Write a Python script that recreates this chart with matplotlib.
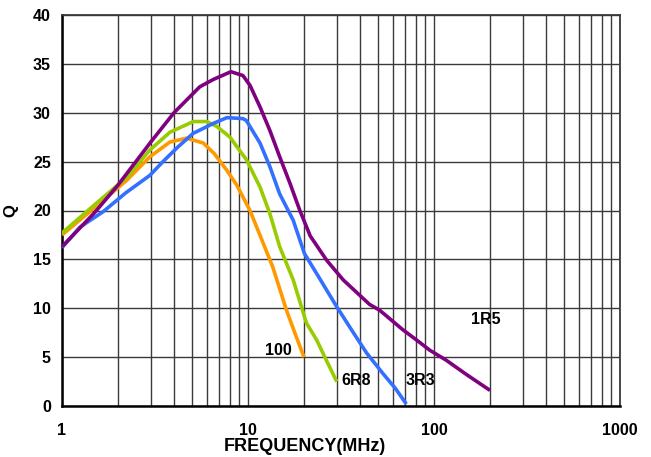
import matplotlib
matplotlib.use("Agg")
import matplotlib.pyplot as plt
from matplotlib.ticker import FixedLocator, LogLocator, NullFormatter

plt.rcParams['font.family'] = ['Liberation Sans', 'DejaVu Sans']

# Q vs frequency
f_1r5 = [1, 1.5, 2, 3, 4, 5.5, 6.5, 8.1, 9.4, 10.25, 11.6, 13.1, 14.8, 16.8, 19.0, 21.6, 26.5, 32.5, 45, 51, 68, 80.6, 95, 116, 150, 200]
q_1r5 = [16.3, 19.8, 22.6, 27.0, 30.0, 32.65, 33.4, 34.2, 33.8, 32.8, 30.6, 28.2, 25.5, 22.8, 20.0, 17.4, 14.9, 12.9, 10.4, 9.8, 7.8, 6.75, 5.7, 4.7, 3.2, 1.6]

f_3r3 = [1, 1.25, 1.67, 2.2, 2.97, 3.49, 4.2, 5.08, 6.5, 7.7, 9.4, 9.8, 11.6, 13.1, 14.8, 17.5, 20.1, 24, 30, 36, 43.5, 53, 62, 71]
q_3r3 = [16.2, 18.3, 19.9, 21.8, 23.6, 25.0, 26.5, 27.9, 28.9, 29.5, 29.4, 29.2, 26.9, 24.5, 21.7, 19.0, 15.6, 13.2, 10.15, 7.8, 5.4, 3.35, 1.8, 0.2]

f_6r8 = [1, 1.5, 2.23, 2.97, 3.8, 5.08, 6.0, 6.8, 8.0, 9.8, 11.6, 13.1, 14.8, 17.5, 20.6, 23.4, 26.5, 30]
q_6r8 = [17.7, 20.6, 23.4, 26.2, 28.0, 29.1, 29.1, 28.6, 27.5, 25.2, 22.4, 19.7, 16.3, 12.9, 8.5, 6.75, 4.6, 2.5]

f_100 = [1, 1.5, 2.23, 2.97, 3.8, 4.68, 5.75, 6.6, 7.7, 8.7, 10.25, 12.1, 13.6, 16.1, 18, 20]
q_100 = [17.5, 20.3, 23.1, 25.5, 27.0, 27.4, 26.9, 25.8, 24.1, 22.6, 20.0, 16.6, 14.2, 9.8, 7.3, 5.0]

series = [
    (f_100, q_100, '#FF9900', '100', 14.5, 5.7),
    (f_6r8, q_6r8, '#99CC00', '6R8', 38, 2.65),
    (f_3r3, q_3r3, '#3370FF', '3R3', 84, 2.65),
    (f_1r5, q_1r5, '#800080', '1R5', 190, 8.8),
]

fig = plt.figure(figsize=(6.51, 4.57), dpi=100)
ax = fig.add_axes([62/651, 1 - 406/457, 558/651, 391/457])

for f, q, col, name, lx, ly in series:
    ax.plot(f, q, color=col, lw=2.6, solid_capstyle='butt', zorder=3)
    ax.text(lx, ly, name, fontsize=11.5, fontweight='bold', ha='center', va='center', zorder=4)

ax.set_xscale('log')
ax.set_xlim(1, 1000)
ax.set_ylim(0, 40)
ax.set_yticks(range(0, 41, 5))
ax.xaxis.set_major_locator(FixedLocator([1, 10, 100, 1000]))
ax.xaxis.set_minor_locator(LogLocator(base=10, subs=range(2, 10)))
ax.xaxis.set_minor_formatter(NullFormatter())
ax.set_xticklabels(['1', '10', '100', '1000'])

ax.grid(True, which='major', color='#3a3a3a', lw=1.0, zorder=1)
ax.grid(True, which='minor', axis='x', color='#3a3a3a', lw=1.0, zorder=1)
ax.tick_params(which='both', length=0)
ax.tick_params(axis='y', pad=8)
ax.tick_params(axis='x', pad=12)
for lab in ax.get_xticklabels() + ax.get_yticklabels():
    lab.set_fontweight('bold')
    lab.set_fontsize(11.5)

for s in ['left', 'bottom']:
    ax.spines[s].set_linewidth(1.8)
    ax.spines[s].set_color('black')
for s in ['top', 'right']:
    ax.spines[s].set_linewidth(1.3)
    ax.spines[s].set_color('#3a3a3a')

ax.set_xlabel('FREQUENCY(MHz)', fontsize=13, fontweight='bold')
ax.xaxis.set_label_coords(0.435, -0.082)
ax.set_ylabel('Q', fontsize=12, fontweight='bold')
ax.yaxis.set_label_coords(-0.079, 0.5)

fig.savefig('out.png', dpi=100)
